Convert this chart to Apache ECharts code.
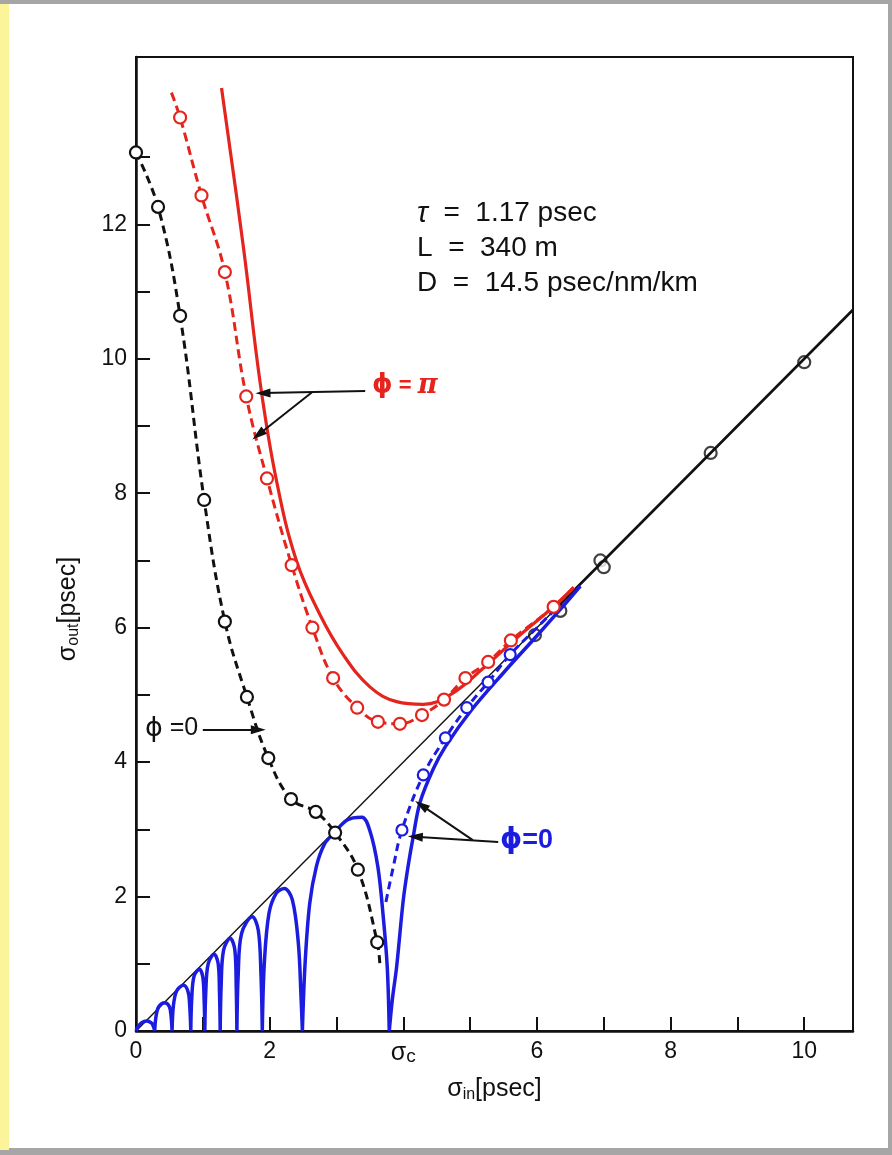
<!DOCTYPE html>
<html>
<head>
<meta charset="utf-8">
<script src="https://cdn.jsdelivr.net/npm/echarts@6/dist/echarts.min.js"></script>
<style>
    html, body { margin: 0; padding: 0; }
    #back { position: absolute; left: 0; top: 0; width: 892px; height: 1155px; background: #a6a6a6; }
    #strip { position: absolute; left: 0; top: 4px; width: 9px; height: 1146px; background: #fbf49a; }
    #paper { position: absolute; left: 9px; top: 4px; width: 879px; height: 1144px; background: #fff; }
    #main { position: absolute; left: 0; top: 0; width: 892px; height: 1155px; }
</style>
</head>
<body>
<div id="back"></div>
<div id="strip"></div>
<div id="paper"></div>
<div id="main"></div>
<script>
// 数据：从图上读出来的点 (σin, σout)

// 对角线 σout = σin
var diagX = [0, 10.73];
var diagY = [0, 10.73];
// 大 σin 段重合的粗线
var thickX = [6.2, 10.73];
var thickY = [6.2, 10.73];

// 刻度
var xTicks = [0, 1, 2, 3, 4, 5, 6, 7, 8, 9, 10];
var xLabels = [0, 2, 4, 6, 8, 10];
var yTicks = [0, 1, 2, 3, 4, 5, 6, 7, 8, 9, 10, 11, 12, 13];
var yLabels = [0, 2, 4, 6, 8, 10, 12];

// φ = π 虚线 + 圆点
var piDashX = [0.53, 0.66, 0.98, 1.33, 1.65, 1.96, 2.33, 2.64, 2.95, 3.31, 3.62, 3.95, 4.28, 4.61, 4.93, 5.27, 5.61, 6.25, 6.55];
var piDashY = [13.96, 13.59, 12.43, 11.29, 9.44, 8.22, 6.93, 6.0, 5.25, 4.81, 4.60, 4.57, 4.70, 4.93, 5.25, 5.49, 5.81, 6.31, 6.60];

// φ = π 实线
var piSolidX = [1.28, 1.61, 1.86, 2.10, 2.40, 2.75, 3.10, 3.50, 3.90, 4.30, 4.70, 5.20, 5.70, 6.20, 6.55];
var piSolidY = [14.03, 11.64, 9.63, 8.20, 7.00, 6.20, 5.60, 5.12, 4.90, 4.86, 5.00, 5.40, 5.85, 6.27, 6.60];

// φ = 0 黑色虚线 + 圆点
var zeroDashX = [0, 0.33, 0.66, 1.02, 1.33, 1.66, 1.98, 2.32, 2.69, 2.98, 3.32, 3.61, 3.65];
var zeroDashY = [13.07, 12.26, 10.64, 7.90, 6.09, 4.97, 4.06, 3.45, 3.26, 2.95, 2.40, 1.32, 0.98];

// φ = 0 蓝色虚线 + 圆点
var blueDashX = [3.74, 3.85, 3.98, 4.30, 4.63, 4.95, 5.27, 5.60, 6.00, 6.30];
var blueDashY = [1.92, 2.44, 2.99, 3.81, 4.36, 4.81, 5.19, 5.60, 6.00, 6.30];

// φ = 0 蓝色实线，每个瓣一段
var blueLobes = [
    [[0, 0], [0.03, 0.06], [0.08, 0.12], [0.16, 0.15], [0.23, 0.12], [0.26, 0.07], [0.28, 0]],
    [[0.28, 0], [0.30, 0.22], [0.34, 0.36], [0.43, 0.42], [0.50, 0.36], [0.525, 0.22], [0.54, 0]],
    [[0.54, 0], [0.56, 0.38], [0.61, 0.60], [0.71, 0.68], [0.78, 0.58], [0.805, 0.35], [0.82, 0]],
    [[0.82, 0], [0.835, 0.50], [0.87, 0.82], [0.95, 0.92], [1.00, 0.80], [1.02, 0.45], [1.03, 0]],
    [[1.03, 0], [1.045, 0.60], [1.08, 1.00], [1.17, 1.14], [1.23, 1.00], [1.25, 0.55], [1.26, 0]],
    [[1.26, 0], [1.275, 0.70], [1.31, 1.20], [1.41, 1.38], [1.48, 1.20], [1.50, 0.65], [1.51, 0]],
    [[1.51, 0], [1.53, 0.85], [1.58, 1.45], [1.74, 1.70], [1.83, 1.50], [1.87, 0.85], [1.89, 0]],
    [[1.89, 0], [1.92, 1.00], [1.99, 1.75], [2.10, 2.05], [2.22, 2.12], [2.34, 1.95], [2.43, 1.30], [2.47, 0.50], [2.49, 0]],
    [[2.49, 0], [2.53, 1.00], [2.60, 1.90], [2.70, 2.45], [2.82, 2.78], [2.95, 2.93], [3.16, 3.14], [3.38, 3.18], [3.50, 2.98], [3.62, 2.44], [3.70, 1.70], [3.76, 0.95], [3.79, 0]],
    [[3.79, 0], [3.84, 0.50], [3.90, 0.95], [4.00, 1.95], [4.07, 2.44], [4.15, 2.90], [4.25, 3.40], [4.45, 3.90], [4.63, 4.23], [5.00, 4.75], [5.50, 5.33], [6.00, 5.88], [6.40, 6.33], [6.65, 6.62]]
];

// 大 σin 处直线上的黑色圆点
var lineDotX = [5.97, 6.35, 6.95, 7.00, 8.60, 10.00];
var lineDotY = [5.89, 6.25, 7.00, 6.90, 8.60, 9.95];

// 箭头 [起点, 终点]
var arrowsPi = [[[3.43, 9.52], [1.90, 9.49]], [[2.63, 9.50], [1.83, 8.87]]];
var arrowsBlack = [[[1.00, 4.48], [1.83, 4.48]]];
var arrowsBlue = [[[5.42, 2.81], [4.18, 2.89]], [[5.04, 2.84], [4.27, 3.36]]];

(function() {
    var myChart = echarts.init(document.getElementById('main'));

    var RED = '#e5241d';
    var BLUE = '#1c1ce0';
    var BLACK = '#111';
    var FONT = 'Liberation Sans';

    function zip(xs, ys) {
        var out = [];
        for (var i = 0; i < xs.length; i++) out.push([xs[i], ys[i]]);
        return out;
    }

    // 首尾不画圆圈
    function withDots(xs, ys, noDot) {
        var out = [];
        for (var i = 0; i < xs.length; i++) {
            var item = { value: [xs[i], ys[i]] };
            if (noDot.indexOf(i) >= 0) item.symbol = 'none';
            out.push(item);
        }
        return out;
    }

    // 各瓣之间用 '-' 断开
    var lobeData = [];
    blueLobes.forEach(function(lobe, k) {
        if (k > 0) lobeData.push('-');
        lobe.forEach(function(p) { lobeData.push(p); });
    });

    function arrowLines(list) {
        return list.map(function(a) {
            return [
                { coord: a[0], symbol: 'none' },
                { coord: a[1], symbol: 'triangle', symbolSize: [9, 15] }
            ];
        });
    }

    var subRich = {
        s: { fontFamily: FONT, fontSize: 25, color: BLACK, lineHeight: 28 },
        sub: { fontFamily: FONT, fontSize: 16, color: BLACK, lineHeight: 15, verticalAlign: 'bottom' },
        t: { fontFamily: FONT, fontSize: 25, color: BLACK, lineHeight: 28 }
    };

    option = {
        animation: false,
        grid: {
            left: 136,
            right: 39,
            top: 57,
            bottom: 124,
            show: true,
            borderColor: BLACK,
            borderWidth: 2
        },
        xAxis: {
            type: 'value',
            min: 0,
            max: 10.73,
            interval: 1,
            name: '{s|σ}{sub|in}{t|[psec]}',
            nameLocation: 'middle',
            nameGap: 44,
            nameTextStyle: { rich: subRich },
            axisLine: { lineStyle: { color: BLACK, width: 2.5 } },
            axisTick: { inside: true, length: 14, customValues: xTicks, lineStyle: { color: BLACK, width: 2 } },
            splitLine: { show: false },
            axisLabel: {
                margin: 9,
                fontFamily: FONT,
                fontSize: 23,
                color: BLACK,
                customValues: xLabels,
                formatter: function(v) {
                    return v === 4 ? '{s|σ}{c|c}' : String(v);
                },
                rich: {
                    s: { fontFamily: FONT, fontSize: 25, color: BLACK, lineHeight: 26 },
                    c: { fontFamily: FONT, fontSize: 19, color: BLACK, lineHeight: 14, verticalAlign: 'bottom' }
                }
            }
        },
        yAxis: {
            type: 'value',
            min: 0,
            max: 14.49,
            interval: 1,
            name: '{s|σ}{sub|out}{t|[psec]}',
            nameLocation: 'middle',
            nameGap: 54,
            nameTextStyle: { rich: subRich, padding: [0, 0, 0, -130] },
            axisLine: { lineStyle: { color: BLACK, width: 2.5 } },
            axisTick: { inside: true, length: 14, customValues: yTicks, lineStyle: { color: BLACK, width: 2 } },
            splitLine: { show: false },
            axisLabel: {
                margin: 9,
                fontFamily: FONT,
                fontSize: 23,
                color: BLACK,
                customValues: yLabels
            }
        },
        series: [{
            name: 'diag',
            type: 'line',
            symbol: 'none',
            lineStyle: { color: BLACK, width: 1.4 },
            data: zip(diagX, diagY)
        }, {
            name: 'thick',
            type: 'line',
            symbol: 'none',
            lineStyle: { color: BLACK, width: 2.6 },
            data: zip(thickX, thickY)
        }, {
            name: 'blue solid',
            type: 'line',
            symbol: 'none',
            smooth: 0.35,
            connectNulls: false,
            lineStyle: { color: BLUE, width: 3.5 },
            data: lobeData
        }, {
            name: 'blue dashed',
            type: 'line',
            smooth: 0.4,
            symbol: 'circle',
            symbolSize: 11,
            itemStyle: { color: '#fff', borderColor: BLUE, borderWidth: 2.2 },
            lineStyle: { color: BLUE, width: 3, type: [8, 5] },
            data: withDots(blueDashX, blueDashY, [0, 1, 8, 9])
        }, {
            name: 'pi solid',
            type: 'line',
            symbol: 'none',
            smooth: 0.4,
            lineStyle: { color: RED, width: 3.2 },
            data: zip(piSolidX, piSolidY)
        }, {
            name: 'pi dashed',
            type: 'line',
            smooth: 0.4,
            symbol: 'circle',
            symbolSize: 12,
            itemStyle: { color: '#fff', borderColor: RED, borderWidth: 2.2 },
            lineStyle: { color: RED, width: 3, type: [9, 5] },
            data: withDots(piDashX, piDashY, [0, piDashX.length - 1])
        }, {
            name: 'zero dashed',
            type: 'line',
            smooth: 0.4,
            symbol: 'circle',
            symbolSize: 12,
            itemStyle: { color: '#fff', borderColor: BLACK, borderWidth: 2.2 },
            lineStyle: { color: BLACK, width: 3, type: [8, 5] },
            data: withDots(zeroDashX, zeroDashY, [zeroDashX.length - 1]),
            markLine: {
                silent: true,
                animation: false,
                label: { show: false },
                lineStyle: { color: BLACK, width: 2, type: 'solid' },
                data: arrowLines(arrowsPi).concat(arrowLines(arrowsBlack)).concat(arrowLines(arrowsBlue))
            }
        }, {
            name: 'line dots',
            type: 'scatter',
            symbol: 'circle',
            symbolSize: 12,
            itemStyle: { color: '#fff', borderColor: BLACK, borderWidth: 2.2 },
            data: zip(lineDotX, lineDotY)
        }],
        graphic: [{
            type: 'text',
            left: 417,
            top: 196,
            style: {
                text: '{i|τ}  =  1.17 psec\nL  =  340 m\nD  =  14.5 psec/nm/km',
                font: '28px Liberation Sans',
                fill: BLACK,
                lineHeight: 35,
                rich: {
                    i: { fontStyle: 'italic', fontFamily: FONT, fontSize: 29, fill: BLACK, lineHeight: 35 }
                }
            }
        }, {
            type: 'text',
            left: 372,
            top: 372,
            style: {
                text: '{p|ϕ}{e| = }{q|π}',
                fill: RED,
                rich: {
                    p: { fontFamily: 'DejaVu Sans', fontWeight: 'bold', fontSize: 26, fill: RED, lineHeight: 30 },
                    e: { fontFamily: FONT, fontWeight: 'bold', fontSize: 22, fill: RED, lineHeight: 30 },
                    q: { fontFamily: 'DejaVu Serif', fontWeight: 'bold', fontStyle: 'italic', fontSize: 27, fill: RED, lineHeight: 30 }
                }
            }
        }, {
            type: 'text',
            left: 145,
            top: 715,
            style: {
                text: '{p|ϕ}{e| =0}',
                fill: BLACK,
                rich: {
                    p: { fontFamily: 'DejaVu Sans', fontSize: 27, fill: BLACK, lineHeight: 30 },
                    e: { fontFamily: FONT, fontSize: 25, fill: BLACK, lineHeight: 30 }
                }
            }
        }, {
            type: 'text',
            left: 500,
            top: 827,
            style: {
                text: '{p|ϕ}{e|=0}',
                fill: BLUE,
                rich: {
                    p: { fontFamily: 'DejaVu Sans', fontWeight: 'bold', fontSize: 28, fill: BLUE, lineHeight: 32 },
                    e: { fontFamily: FONT, fontWeight: 'bold', fontSize: 27, fill: BLUE, lineHeight: 32 }
                }
            }
        }]
    };

    myChart.setOption(option);
})();
</script>
</body>
</html>
